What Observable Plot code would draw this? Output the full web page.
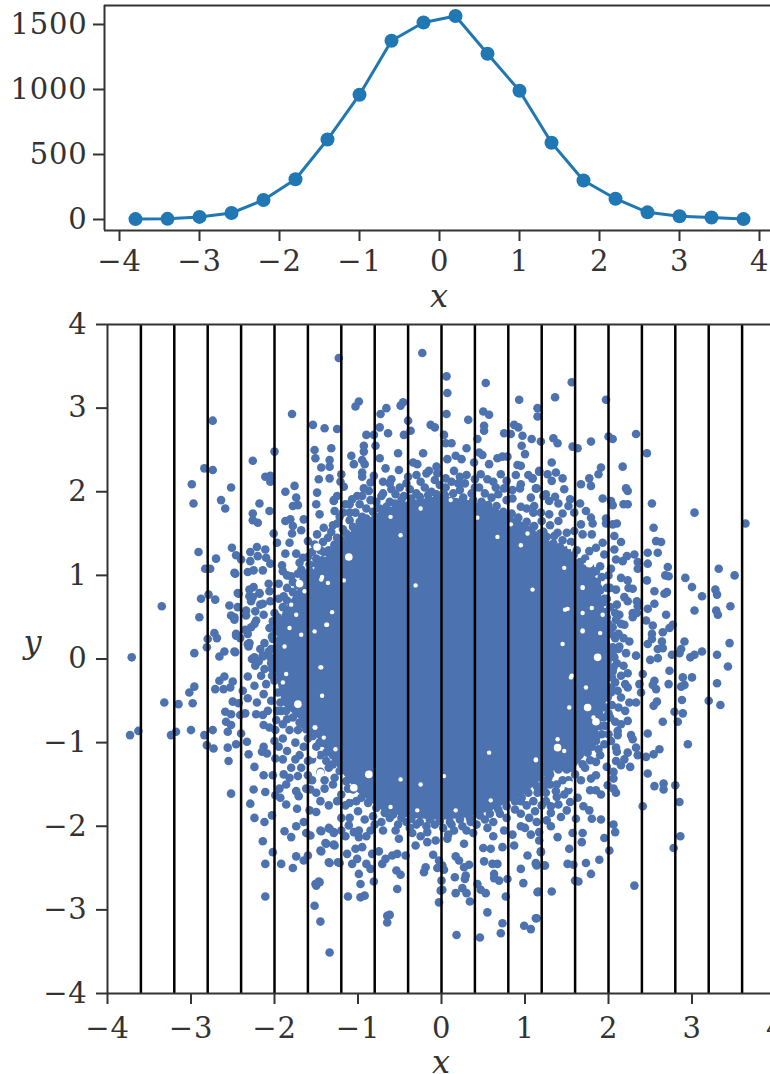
<!DOCTYPE html>
<html><head><meta charset="utf-8">
<script src="https://cdn.jsdelivr.net/npm/d3@7"></script>
<script src="https://cdn.jsdelivr.net/npm/@observablehq/plot@0.6"></script>
<style>html,body{margin:0;padding:0;background:#fff;overflow:hidden}svg{display:block}#c{position:relative;width:770px;height:1074px}#c svg:last-child{position:absolute;left:0;top:300px}
svg text{font-family:'DejaVu Serif' !important;letter-spacing:0.8px}</style>
</head><body><div id="c"></div>
<script>
const binCenters=[-3.8,-3.4,-3,-2.6,-2.2,-1.8,-1.4,-1,-0.6,-0.2,0.2,0.6,1,1.4,1.8,2.2,2.6,3,3.4,3.8];
const binCounts=[3,5,20,50,150,310,615,960,1375,1515,1565,1275,990,590,300,160,55,25,15,3];
const binEdges=[-3.6,-3.2,-2.8,-2.4,-2,-1.6,-1.2,-0.8,-0.4,0,0.4,0.8,1.2,1.6,2,2.4,2.8,3.2,3.6];
const xTicksTop=[-4,-3,-2,-1,0,1,2,3,4];
const yTicksTop=[0,500,1000,1500];
const ticksBottom=[-4,-3,-2,-1,0,1,2,3,4];
// Upper-left fringe of the scatter, read point by point
const upperLeft=[[-1.23,3.6],[-1.79,2.93],[-2.74,2.85],[-1.54,2.8],[-1.4,2.76],[-1.25,2.75],[-2,2.48],[-1.52,2.5],[-1.32,2.52],[-1.51,2.4],[-1.34,2.38],[-2.26,2.37],[-2.84,2.28],[-2.74,2.26],[-1.44,2.29],[-1.34,2.3],[-1.47,2.15],[-1.34,2.16],[-2.11,2.18],[-2.05,2.19],[-2.05,2.12],[-2.99,2.09],[-2.52,2.05],[-1.76,2.07],[-1.87,2],[-1.49,1.99],[-2.97,1.86],[-2.64,1.9],[-2.59,1.8],[-2.18,1.86],[-1.74,1.93],[-1.78,1.83],[-1.72,1.84],[-1.5,1.85],[-1.29,1.89],[-2.06,1.77],[-2.26,1.74],[-1.46,1.73],[-1.28,1.77],[-2.26,1.66],[-2.2,1.63],[-1.87,1.65],[-1.81,1.67],[-1.65,1.67],[-1.78,1.59],[-1.68,1.54],[-1.41,1.57],[-1.49,1.49],[-2.01,1.5],[-1.79,1.5],[-1.97,1.39],[-1.82,1.39],[-1.6,1.41],[-2.91,1.28],[-2.51,1.33],[-2.7,1.2],[-2.21,1.34],[-2.46,1.24],[-2.29,1.28],[-2.11,1.31],[-1.87,1.26],[-1.74,1.26],[-1.41,1.28],[-2.4,1.19],[-2.29,1.17],[-2.2,1.23],[-2.1,1.21],[-2.83,1.08],[-2.77,1.08],[-2.47,1.02],[-2.32,1.04],[-2.25,1.06],[-2.14,1.06],[-2.05,1.14],[-1.91,1.12],[-2.07,0.9],[-2.25,0.86],[-2.3,0.83],[-2.43,0.78],[-2.18,0.78],[-2.3,0.75],[-2.06,0.81],[-2.79,0.77],[-2.88,0.72],[-2.71,0.71],[-2.28,0.69],[-2.05,0.69],[-1.89,0.75],[-3.35,0.63],[-2.54,0.64],[-2.44,0.62],[-2.34,0.58],[-2.17,0.65],[-2.23,0.57],[-2.13,0.53],[-2.52,0.52],[-2.48,0.47],[-2.9,0.5],[-2.22,0.46],[-2.28,0.38],[-2.35,0.35],[-2.02,0.45],[-2.06,0.37],[-2.72,0.31],[-2.69,0.25],[-2.8,0.24],[-2.46,0.3],[-2.32,0.3],[-2.41,0.25],[-2.81,0.14],[-2.3,0.19],[-2.31,0.15],[-2.12,0.19],[-2.96,0.07],[-2.6,0.09],[-2.66,0.03],[-2.47,0.08],[-2.27,0],[-2.14,0.03],[-3.71,0.02],[-1.9,1.05],[-1.8,0.99],[-1.68,1.07],[-1.58,1.13],[-1.36,1.45],[-1.28,1.37],[-1.52,1.37],[-1.66,1.21],[-1.95,0.9],[-1.3,1.6],[-1.22,1.7],[-1.15,1.85],[-1.1,1.75],[-2.48,1.03],[-2.18,0.79],[-2.44,0.79],[-2.26,0.74],[-2.14,0.66],[-2.48,0.5],[-2.34,0.52],[-2.24,0.42],[-2.32,0.18],[-2.46,0.28],[-2.24,0.02],[-2.14,0.04],[-2.48,0.09]];
// Lower-left fringe
const lowerLeft=[[-2.6,-0.21],[-2.66,-0.26],[-2.5,-0.27],[-2.32,-0.21],[-2.23,-0.08],[-2.96,-0.33],[-3.02,-0.4],[-2.71,-0.36],[-2.61,-0.36],[-2.53,-0.34],[-2.38,-0.38],[-2.24,-0.32],[-2.32,-0.47],[-2.21,-0.52],[-2.5,-0.51],[-2.43,-0.53],[-3.32,-0.52],[-3.15,-0.54],[-2.98,-0.53],[-2.59,-0.63],[-2.52,-0.66],[-2.41,-0.67],[-2.35,-0.65],[-2.22,-0.66],[-2.14,-0.67],[-2.58,-0.75],[-2.52,-0.79],[-2.56,-0.87],[-2.13,-0.79],[-2.06,-0.82],[-2.4,-0.89],[-3.73,-0.91],[-3.63,-0.86],[-3.24,-0.91],[-3.18,-0.87],[-3,-0.85],[-2.84,-0.91],[-2.74,-0.85],[-2.81,-1.03],[-2.73,-1.07],[-2.56,-1.06],[-2.46,-1.02],[-2.33,-0.99],[-2.31,-1.14],[-2.13,-1.05],[-2.15,-1.11],[-2.09,-1.13],[-2.55,-1.22],[-2.24,-1.29],[-1.99,-1.19],[-2.13,-1.39],[-2.02,-1.39],[-1.89,-1.38],[-1.72,-1.4],[-1.6,-1.39],[-1.86,-1.5],[-1.94,-1.55],[-2.25,-1.56],[-2.52,-1.61],[-2.11,-1.59],[-1.99,-1.63],[-1.93,-1.66],[-1.74,-1.58],[-1.71,-1.64],[-1.57,-1.56],[-2.29,-1.73],[-1.86,-1.74],[-1.73,-1.79],[-1.58,-1.81],[-1.5,-1.83],[-2.24,-1.9],[-2.03,-1.87],[-2.12,-1.95],[-1.65,-1.95],[-1.74,-2],[-1.88,-2.06],[-1.8,-2.13],[-1.62,-2.08],[-1.57,-2.11],[-1.44,-2.06],[-1.34,-2.03],[-1.29,-2.08],[-1.38,-2.21],[-1.28,-2.23],[-1.44,-2.3],[-2.14,-2.18],[-2.02,-2.31],[-2.11,-2.45],[-1.92,-2.45],[-1.74,-2.36],[-1.78,-2.5],[-1.65,-2.41],[-1.6,-2.35],[-1.34,-2.44],[-1.22,-2.44],[-1.46,-2.67],[-1.5,-2.71],[-2.11,-2.84],[-1.52,-2.95],[-1.45,-3.14],[-1.34,-3.51],[-1.99,-0.85],[-1.9,-0.95],[-1.95,-1.05],[-1.85,-1.1],[-1.75,-1],[-1.7,-1.15],[-1.65,-1.05],[-1.8,-1.3],[-1.68,-1.3],[-1.55,-1.2],[-1.45,-1.15],[-1.55,-1.45],[-1.45,-1.35],[-1.35,-1.3],[-1.4,-1.55],[-1.3,-1.5],[-1.25,-1.7],[-1.35,-1.75],[-1.2,-1.9],[-1.45,-1.7],[-1.15,-1.75]];
// Upper-right fringe
const upperRight=[[1.56,3.31],[1.36,3.13],[1.97,3.1],[1.15,3],[1.15,2.9],[2.33,2.69],[2,2.66],[2.05,2.63],[1.08,2.63],[1.19,2.6],[1.34,2.64],[1.39,2.58],[1.79,2.6],[1.57,2.54],[1.63,2.52],[2.46,2.46],[1.32,2.35],[1.91,2.29],[2.17,2.3],[1.17,2.25],[1.27,2.21],[1.37,2.23],[1.88,2.21],[1.77,2.16],[1.09,2.16],[1.45,2.16],[1.32,2.13],[1.67,2.09],[1.79,2.07],[2.21,2.04],[2.23,2.01],[1.13,2.04],[1.47,2.03],[1.93,1.92],[2.03,1.89],[2.05,1.84],[2.18,1.85],[2.23,1.85],[2.52,1.86],[1.22,1.95],[1.36,1.94],[1.54,1.91],[1.66,1.86],[1.29,1.89],[1.4,1.86],[1.52,1.83],[1.11,1.83],[1.59,1.75],[1.73,1.77],[1.45,1.74],[1.29,1.73],[1.19,1.75],[3.03,1.75],[3.64,1.62],[1.97,1.68],[1.79,1.69],[1.81,1.62],[1.97,1.62],[2.05,1.61],[2.1,1.62],[2.54,1.57],[1.67,1.61],[1.4,1.65],[1.11,1.59],[2.07,1.47],[1.8,1.49],[1.69,1.49],[1.5,1.51],[1.59,1.53],[1.39,1.51],[2.15,1.4],[2.57,1.41],[2.63,1.4],[1.93,1.39],[1.85,1.33],[2.07,1.31],[2.47,1.27],[2.59,1.27],[2.31,1.25],[1.95,1.25],[1.77,1.29],[2.22,1.23],[2.09,1.19],[2.17,1.17],[2.35,1.16],[2.47,1.14],[2.71,1.1],[3.32,1.08],[3.51,1],[2.35,1.08],[2.03,1.08],[1.9,1.11],[2.68,1],[2.72,0.99],[2.92,0.97],[2,1],[2.15,0.97],[2.23,0.94],[2.46,0.94],[3,0.86],[2.24,0.85],[2.29,0.84],[2.55,0.81],[2.7,0.8],[2.67,0.78],[3.12,0.75],[3.28,0.83],[3.3,0.77],[2.19,0.74],[2.09,0.83],[2.34,0.69],[2.55,0.66],[2.23,0.69],[3.46,0.63],[3.03,0.58],[3.29,0.58],[3.31,0.53],[2.69,0.53],[2.47,0.6],[2.35,0.63],[2.29,0.55],[2.34,0.55],[2.29,0.5],[2.13,0.53],[2.09,0.47],[2.45,0.46],[2.19,0.41],[2.53,0.4],[2.77,0.41],[2.73,0.37],[2.65,0.32],[2.52,0.3],[2.52,0.24],[2.47,0.18],[2.25,0.21],[2.91,0.21],[3.45,0.19],[2.64,0.21],[2.59,0.12],[2.65,0.13],[2.87,0.12],[3.12,0.09],[3.3,0.05],[3.03,0.05],[2.98,0.02],[2.76,0.05],[2.85,0.07],[2.59,0.01],[2.5,-0.01],[2.33,0.04],[2.21,0.07],[2.13,0.15],[2.02,0.85],[2.1,0.65],[1.98,0.72],[2.12,0.3]];
// Lower-right fringe
const lowerRight=[[3.43,-0.09],[2.73,-0.14],[2.41,-0.18],[2.23,-0.17],[2.89,-0.22],[3,-0.22],[3.3,-0.29],[2.55,-0.26],[2.53,-0.31],[2.72,-0.3],[2.91,-0.31],[2.87,-0.33],[2.57,-0.36],[2.37,-0.3],[2.39,-0.4],[2.88,-0.49],[3.2,-0.5],[3.34,-0.55],[2.58,-0.51],[2.54,-0.56],[2.33,-0.52],[2.25,-0.52],[2.23,-0.34],[2.11,-0.38],[2.79,-0.63],[2.89,-0.65],[2.65,-0.75],[2.83,-0.75],[2.23,-0.74],[2.47,-0.89],[2.11,-0.86],[2.11,-0.91],[2.27,-0.91],[2.29,-0.96],[2.95,-1.02],[2.61,-1.08],[2.54,-1.14],[2.45,-1.17],[2.33,-1.06],[2.09,-1.06],[2.1,-1.11],[2.23,-1.12],[2.35,-1.15],[1.9,-1.15],[2.19,-1.2],[2.09,-1.22],[2.15,-1.27],[2.26,-1.29],[1.98,-1.29],[1.85,-1.23],[1.78,-1.21],[1.69,-1.26],[2.47,-1.37],[2.06,-1.35],[2.06,-1.43],[1.85,-1.39],[1.79,-1.43],[1.67,-1.45],[2.55,-1.52],[2.66,-1.49],[2.66,-1.56],[2.8,-1.51],[1.99,-1.51],[2.06,-1.55],[2.09,-1.6],[1.78,-1.57],[1.85,-1.57],[1.91,-1.62],[1.52,-1.57],[1.37,-1.58],[1.47,-1.62],[1.63,-1.66],[2.85,-1.71],[2.41,-1.76],[1.54,-1.71],[1.4,-1.74],[1.31,-1.76],[1.7,-1.76],[1.77,-1.81],[1.5,-1.81],[1.31,-1.84],[1.61,-1.91],[1.43,-1.89],[1.8,-1.91],[1.91,-1.92],[1.14,-1.95],[1.26,-1.93],[1.31,-2],[2.06,-1.98],[2.08,-2.07],[2.86,-2.12],[1.57,-2.08],[1.69,-2.08],[1.17,-2.07],[1.07,-2.1],[1.39,-2.13],[1.95,-2.14],[1.17,-2.17],[1.68,-2.19],[2.78,-2.26],[1.53,-2.27],[2.01,-2.29],[1.19,-2.31],[1.89,-2.4],[1.13,-2.44],[1.14,-2.47],[1.23,-2.47],[1.51,-2.45],[1.58,-2.46],[1.73,-2.44],[1.79,-2.57],[1.6,-2.65],[1.64,-2.66],[2.31,-2.71],[1.15,-2.79],[1.32,-2.78],[1.13,-3.1],[1.07,-3.23],[2.02,-0.7],[2,-0.9],[1.95,-1.02],[1.8,-1.05],[1.65,-1.15],[1.55,-1.3],[1.45,-1.45],[1.25,-1.6],[1.2,-1.75],[1.3,-1.5]];
// Top edge of the scatter
const topEdge=[[-0.23,3.66],[0.06,3.38],[0.53,3.3],[0.07,3.18],[0.93,3.1],[-0.99,3.08],[-1.03,3.02],[-0.46,3.07],[-0.49,3.03],[-0.66,3],[-0.73,2.93],[0.06,2.93],[0.5,2.96],[0.57,2.92],[0.32,2.86],[-0.4,2.85],[-0.74,2.77],[-0.37,2.73],[-0.13,2.8],[-0.08,2.77],[0.51,2.79],[0.51,2.73],[0.87,2.8],[0.92,2.77],[0.75,2.7],[-0.64,2.7],[-0.45,2.68],[-0.9,2.68],[-0.81,2.68],[0.03,2.68],[0.83,2.69],[0.97,2.67],[0.43,2.63],[-0.93,2.55],[-0.79,2.55],[0.05,2.58],[0.12,2.58],[0.3,2.52],[0.96,2.55],[-0.93,2.48],[-0.52,2.46],[-0.22,2.46],[0.45,2.47],[0.49,2.44],[1,2.45],[-1.08,2.43],[-0.74,2.4],[-0.95,2.38],[-1.05,2.33],[-0.92,2.33],[-0.34,2.35],[-0.29,2.33],[-0.06,2.3],[0.17,2.43],[0.07,2.39],[0.24,2.39],[0.39,2.35],[0.57,2.33],[0.67,2.4],[0.73,2.42],[0.79,2.42],[0.91,2.32],[0.95,2.31],[-0.67,2.28],[-0.51,2.26],[-0.15,2.25],[-0.95,2.23],[-0.95,2.18],[-1.2,2.21],[0.89,2.2],[1.04,2.2],[1.09,2.16],[1.17,2.24],[0.47,2.21],[0.71,2.21],[-0.81,2.19],[-1.17,2.06],[-1.21,2.12],[-0.85,2.11],[-0.93,2.04],[-0.87,2.01],[0.95,2.09],[0.94,2.04],[1.14,2.04],[0.75,2.04],[1.07,1.93],[1.25,1.97],[-1.01,1.95],[-1.07,1.91],[-1.29,1.9],[-1.25,1.95],[-0.7,2.12],[-0.6,2.15],[-0.4,2.18],[-0.25,2.12],[-0.05,2.22],[0.15,2.25],[0.3,2.2],[0.55,2.15],[0.65,2.05],[0.85,2.02],[-0.5,2.05],[-0.7,1.98],[0.2,2.1],[0.4,2.05]];
// Bottom edge of the scatter
const bottomEdge=[[-1.45,-2.05],[-1.35,-2.02],[-1.29,-2.07],[-1.11,-1.99],[-1.05,-2.07],[-0.99,-2.05],[-0.99,-2.13],[-1.39,-2.2],[-1.29,-2.22],[-1.45,-2.29],[-1.13,-2.33],[-0.95,-2.25],[-1.03,-2.27],[-0.83,-2.33],[-0.75,-2.3],[-1.35,-2.43],[-1.24,-2.43],[-1.07,-2.45],[-1.01,-2.39],[-0.9,-2.45],[-0.85,-2.51],[-0.71,-2.45],[-0.67,-2.39],[-0.59,-2.35],[-0.53,-2.33],[-0.43,-2.35],[-0.31,-2.23],[-0.51,-2.15],[-0.55,-2.05],[-0.17,-2.07],[-0.17,-2.19],[-0.07,-2.17],[0.07,-2.15],[0.27,-2.21],[-0.1,-2.34],[-0.03,-2.41],[0.17,-2.36],[0.21,-2.41],[0.5,-2.26],[0.59,-2.27],[0.73,-2.25],[0.87,-2.23],[1.03,-2.35],[1.19,-2.3],[0.51,-2.42],[0.61,-2.45],[0.67,-2.45],[1.13,-2.45],[1.24,-2.47],[-0.19,-2.49],[-0.21,-2.55],[-0.05,-2.5],[0.01,-2.47],[0.03,-2.52],[0.33,-2.46],[0.27,-2.49],[0.95,-2.51],[-0.54,-2.53],[-0.49,-2.58],[-0.99,-2.57],[0.63,-2.57],[0.29,-2.59],[0.63,-2.62],[0.16,-2.61],[0.69,-2.65],[0.79,-2.63],[0,-2.65],[0.28,-2.63],[-1.47,-2.66],[-1.51,-2.69],[-0.97,-2.69],[-0.81,-2.66],[0.43,-2.69],[0.98,-2.68],[-0.53,-2.75],[0.25,-2.74],[0.01,-2.76],[-0.01,-2.77],[0.47,-2.76],[1.16,-2.78],[0.17,-2.8],[0.3,-2.8],[0.53,-2.8],[-1.12,-2.84],[-0.97,-2.85],[-0.92,-2.83],[0.77,-2.84],[-0.03,-2.91],[0.34,-2.9],[0.55,-3.03],[-0.65,-3.07],[-0.62,-3.06],[-0.65,-3.15],[0.73,-3.16],[1.14,-3.1],[0.99,-3.19],[0.71,-3.28],[0.18,-3.3],[0.46,-3.33],[-0.7,-2.05],[-0.85,-2.05],[0.3,-2.05],[0.55,-2.02],[0.75,-2.05],[0.95,-2],[1.05,-1.9],[-0.35,-2.08],[-0.25,-2.12],[0.15,-2.05],[-1.2,-2.05]];
// Crowded band between the fringe and the solid middle, estimated by eye
const bandLeft=[[-2,0.55],[-1.96,0.42],[-2.03,0.27],[-1.98,0.12],[-2.07,0.09],[-2.04,-0.05],[-2.12,-0.12],[-2.03,-0.2],[-2.1,-0.3],[-2.16,-0.2],[-2.13,-0.42],[-2.04,-0.5],[-2.08,-0.62],[-1.97,-0.62],[-1.98,-0.73],[-1.9,-0.78],[-2.17,0.12],[-2.19,-0.03],[-1.95,0.72],[-1.85,0.85],[-1.78,0.92],[-1.85,1],[-1.72,1.02],[-1.62,1.02],[-1.7,1.15],[-1.6,1.22],[-1.5,1.2],[-1.55,1.28],[-1.45,1.3],[-1.35,1.3],[-1.42,1.4],[-1.25,1.45],[-1.32,1.52],[-1.18,1.55],[-1.25,1.62],[-1.1,1.66],[-1.18,1.75],[-1.03,1.75],[-0.95,1.7],[-1.1,1.85],[-0.98,1.85],[-0.9,1.8],[-0.85,1.9],[-0.95,1.95],[-1.1,-1.72],[-1.02,-1.7],[-1.2,-1.62],[-1.12,-1.55],[-1.28,-1.42],[-1.2,-1.32],[-1.38,-1.22],[-1.3,-1.15],[-1.5,-1.05],[-1.42,-1],[-1.6,-0.95],[-1.55,-0.88],[-1.72,-0.85],[-1.65,-0.78],[-1.82,-0.85],[-1.85,-0.72],[-1.92,-0.62],[-1.4,-1.45],[-1.6,-1.22],[-1.75,-1.2],[-1.9,-1.2],[-2,-0.98],[-1.82,-1.42],[-1.62,-1.55],[-1.5,-1.6]];
const bandTop=[[-0.78,1.88],[-0.72,1.95],[-0.62,1.88],[-0.55,1.97],[-0.45,1.95],[-0.6,2.03],[-0.38,2.03],[-0.3,1.98],[-0.2,2.05],[-0.12,2],[-0.02,2.08],[-0.08,2.14],[0.05,2.05],[0.12,2.12],[0.22,2.02],[0.28,2.1],[0.36,1.98],[0.45,2.05],[0.52,1.98],[0.6,1.93],[0.68,1.97],[0.78,1.9],[0.85,1.92],[0.95,1.82],[1.02,1.8],[-0.42,2.1],[-0.3,2.2],[-0.18,2.22],[0.05,2.16],[0.22,2.18],[0.4,2.15],[0.62,2.12],[0.78,2.13],[-0.62,2.1]];
const bandRight=[[1.1,1.75],[1.2,1.65],[1.3,1.6],[1.22,1.52],[1.35,1.47],[1.45,1.42],[1.55,1.4],[1.5,1.3],[1.62,1.3],[1.72,1.2],[1.65,1.12],[1.78,1.1],[1.85,1.05],[1.8,0.95],[1.92,0.98],[1.88,0.85],[1.98,0.85],[1.95,0.72],[2.02,0.62],[1.98,0.5],[2.08,0.55],[2.05,0.38],[2.15,0.42],[2.08,0.25],[2.18,0.25],[2.12,0.12],[2.05,0.06],[2.1,-0.05],[2.18,-0.08],[2.05,-0.15],[2.15,-0.2],[2.08,-0.28],[2.2,-0.3],[2.03,-0.4],[2.15,-0.46],[2.04,-0.55],[2.12,-0.58],[2.2,-0.62],[2,-0.65],[2.08,-0.75],[1.96,-0.8],[2.15,-0.78],[1.92,-0.9],[2.03,-0.98],[1.85,-0.98],[1.88,-1.08],[1.75,-1.12],[1.7,-1.05],[1.62,-1.2],[1.55,-1.15],[1.72,-1.3],[1.6,-1.38],[1.5,-1.32],[1.42,-1.3],[1.52,-1.45],[1.38,-1.5],[1.28,-1.42],[1.22,-1.55],[1.15,-1.6],[1.1,-1.7],[1.38,-1.65],[1.25,-1.7],[1.12,-1.82],[1.02,-1.75],[0.95,-1.7],[0.95,-1.85],[0.88,-1.8]];
const bandBottom=[[0.78,-1.9],[0.7,-1.85],[0.62,-1.95],[0.52,-1.92],[0.42,-1.98],[0.35,-1.95],[0.25,-2],[0.12,-1.98],[0.02,-2.02],[-0.08,-1.98],[-0.18,-2],[-0.3,-1.98],[-0.42,-1.95],[-0.52,-1.98],[-0.62,-1.9],[-0.72,-1.95],[-0.82,-1.88],[-0.92,-1.92],[-1,-1.82],[-0.38,-2.02],[0.08,-2.1],[0.38,-2.08],[0.62,-2.12],[0.85,-2.1],[1,-2.02],[-0.8,-1.98],[-1.1,-1.9],[-0.9,-2.12],[-1.15,-2.12]];
// Points on the rim of the solid middle, estimated by eye
const rimUpper=[[-2.04,0.12],[-2.02,0.24],[-1.98,0.33],[-1.96,0.5],[-1.9,0.62],[-1.85,0.7],[-1.78,0.8],[-1.72,0.88],[-1.65,0.96],[-1.58,1.05],[-1.5,1.14],[-1.43,1.18],[-1.36,1.28],[-1.28,1.36],[-1.2,1.42],[-1.14,1.5],[-1.06,1.58],[-0.98,1.64],[-0.9,1.68],[-0.82,1.76],[-0.74,1.8],[-0.66,1.82],[-0.56,1.86],[-0.48,1.9],[-0.36,1.92],[-0.26,1.94],[-0.16,1.96],[-0.06,1.97],[0.04,1.96],[0.14,1.98],[0.26,1.93],[0.38,1.9],[0.48,1.88],[0.56,1.84],[0.66,1.83],[0.74,1.76],[0.84,1.74],[0.92,1.69],[1.02,1.64],[1.1,1.58],[1.18,1.5],[1.26,1.46],[1.34,1.38],[1.42,1.34],[1.5,1.28],[1.58,1.24],[1.66,1.16],[1.72,1.08],[1.8,1.02],[1.86,0.92],[1.9,0.82],[1.94,0.68],[1.97,0.56],[2,0.42],[2.03,0.3],[2.05,0.14],[2.07,0.02]];
const rimLower=[[2.06,-0.1],[2.04,-0.22],[2.03,-0.34],[1.99,-0.46],[1.97,-0.58],[1.94,-0.7],[1.9,-0.8],[1.86,-0.92],[1.8,-0.98],[1.72,-1.06],[1.66,-1.14],[1.58,-1.24],[1.5,-1.28],[1.4,-1.32],[1.3,-1.38],[1.22,-1.46],[1.14,-1.52],[1.04,-1.6],[0.96,-1.66],[0.88,-1.7],[0.78,-1.76],[0.68,-1.8],[0.58,-1.85],[0.46,-1.87],[0.34,-1.9],[0.22,-1.92],[0.1,-1.95],[-0.02,-1.94],[-0.14,-1.92],[-0.26,-1.95],[-0.36,-1.91],[-0.48,-1.9],[-0.58,-1.86],[-0.68,-1.84],[-0.78,-1.78],[-0.88,-1.72],[-0.96,-1.66],[-1.06,-1.56],[-1.14,-1.46],[-1.22,-1.34],[-1.3,-1.26],[-1.38,-1.12],[-1.46,-1],[-1.54,-0.92],[-1.62,-0.84],[-1.7,-0.76],[-1.78,-0.7],[-1.86,-0.62],[-1.93,-0.52],[-1.96,-0.4],[-2,-0.26],[-2.03,-0.12],[-2.05,0.02]];
// The middle of the scatter is a solid overlapped mass whose individual
// points cannot be read: it is drawn as the outline of that mass.
const massX=[-2.02,-1.9,-1.7,-1.5,-1.3,-1,-0.7,-0.4,0,0.3,0.6,1,1.27,1.59,1.87,1.98,2.05];
const massTop=[0,0.55,0.85,1.1,1.3,1.6,1.78,1.88,1.95,1.9,1.82,1.62,1.42,1.22,0.95,0.5,0];
const massBottom=[0,-0.55,-0.72,-0.92,-1.22,-1.6,-1.82,-1.9,-1.93,-1.9,-1.82,-1.62,-1.38,-1.22,-0.92,-0.5,0];
// White gaps visible inside the mass
const gaps=[[-1.74,0.53],[-1.88,0.15],[-1.44,0.95],[-1.36,0.91],[-1.8,0.65],[-1.82,0.37],[-1.68,0.29],[-1.38,0.41],[-1.52,0.33],[-1.64,0.81],[-1.9,-0.28],[-1.44,-0.1],[-1.86,-0.18],[-1.52,-0.82],[1.69,0.85],[1.93,0.53],[1.47,1.09],[1.8,0.61],[1.69,0.55],[1.69,0.33],[1.45,0.18],[1.9,0.31],[1.48,0.59],[1.09,0.83],[1.55,-0.22],[1.39,-0.96],[1.13,-1.21],[1.82,-0.7],[1.47,-1.1],[0.17,-1.81],[-0.29,-1.81],[-0.61,-1.77],[-1.09,-1.65],[0.59,-1.69],[-0.25,1.8],[0.11,1.9],[-0.61,1.7],[0.43,1.69],[0.83,1.61],[-1.43,0.98],[-1.17,0.94],[-1.45,-0.1],[-1.37,0.41],[-1.31,0.56],[-1.43,-0.44],[-1.51,-0.82],[-1.27,-1.08],[-1.41,-0.94],[-0.49,-1.44],[-0.25,-1.5],[0.03,-1.4],[0.57,-1.12],[1.13,-1.2],[1.53,-0.58],[1.69,0.86],[0.67,1.46],[1.03,1.5],[1.53,1.34],[-0.49,1.48],[-0.31,0.88],[0.95,1.36],[1.51,0.6],[1.69,0.34],[1.73,-0.34],[1.56,-0.2]];
const bigGaps=[[-1.49,1.34],[-1.11,1.22],[-1.05,-1.54],[-0.87,-1.38],[1.39,-1.06],[1.87,0.02],[1.77,1.14],[1.71,1.38],[-1.72,-0.54],[1.75,-0.58],[-1.53,-1.14],[1.53,-1.5],[-1.45,-1.36],[1.85,-0.75],[-1.7,0.9]];

const points=[...upperLeft,...lowerLeft,...upperRight,...lowerRight,...topEdge,...bottomEdge,...bandLeft,...bandTop,...bandRight,...bandBottom,...rimUpper,...rimLower];
const fmt=d3.format("d");
const font="'DejaVu Serif'";
const ink="#333";
const tickStyle={tickFormat:fmt,tickSize:11,label:null,stroke:ink,strokeWidth:2,fontSize:29};

const topChart=Plot.plot({
  width:770,height:320,marginLeft:104,marginRight:0,marginTop:5,marginBottom:90,
  style:{fontFamily:font,fontSize:"29px",color:ink,background:"#fff"},
  x:{domain:[-4.1875,4.1375]},y:{domain:[-84.6,1646]},
  marks:[
    Plot.line(binCenters,{x:binCenters,y:binCounts,stroke:"#1f77b4",strokeWidth:3}),
    Plot.dot(binCenters,{x:binCenters,y:binCounts,fill:"#1f77b4",r:7}),
    Plot.ruleX([-4.1875],{stroke:ink,strokeWidth:2}),
    Plot.ruleY([-84.6,1646],{stroke:ink,strokeWidth:2}),
    Plot.axisX({ticks:xTicksTop,tickPadding:9,...tickStyle}),
    Plot.axisY({ticks:yTicksTop,tickPadding:6,...tickStyle}),
    Plot.text(["x"],{x:[0],frameAnchor:"bottom",dy:76,fontStyle:"italic",fontSize:32,fill:ink})
  ]});
const bottomChart=Plot.plot({
  width:770,height:774,marginLeft:107,marginRight:0,marginTop:24,marginBottom:81,
  style:{fontFamily:font,fontSize:"29px",color:ink,background:"transparent"},
  x:{domain:[-4,4],range:[107,775]},y:{domain:[-4,4]},
  marks:[
    Plot.area(massX,{x1:massX,y1:massBottom,y2:massTop,fill:"#4c72b0"}),
    Plot.dot(points,{x:d=>d[0],y:d=>d[1],fill:"#4c72b0",r:4.3}),
    Plot.dot(gaps,{x:d=>d[0],y:d=>d[1],fill:"#fff",r:2.2}),
    Plot.dot(bigGaps,{x:d=>d[0],y:d=>d[1],fill:"#fff",r:3.8}),
    Plot.ruleX(binEdges,{stroke:"#000",strokeWidth:2.5}),
    Plot.ruleX([-4],{stroke:ink,strokeWidth:2}),
    Plot.ruleY([-4,4],{stroke:ink,strokeWidth:2}),
    Plot.axisX({ticks:ticksBottom,tickPadding:13,...tickStyle}),
    Plot.axisY({ticks:ticksBottom,tickPadding:9,...tickStyle}),
    Plot.text(["x"],{x:[0],frameAnchor:"bottom",dy:79,fontStyle:"italic",fontSize:32,fill:ink}),
    Plot.text(["y"],{y:[0.2],frameAnchor:"left",dx:-84,fontStyle:"italic",fontSize:32,fill:ink})
  ]});
document.getElementById("c").append(topChart,bottomChart);
</script></body></html>
